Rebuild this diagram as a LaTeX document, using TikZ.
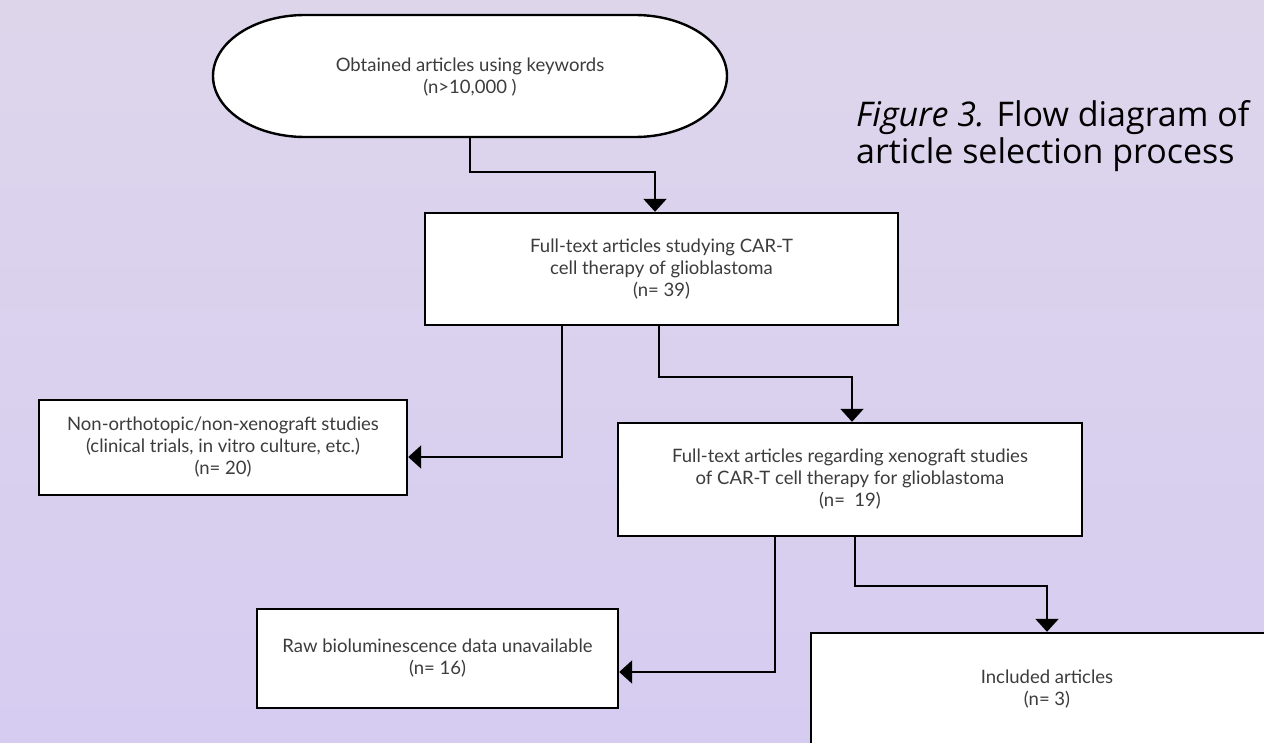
\documentclass[tikz,border=0pt]{standalone}
\usepackage{fontspec}
\setmainfont{Lato}
\newfontfamily\capfont{Open Sans}
\usetikzlibrary{arrows.meta}
\definecolor{bgtop}{RGB}{221,214,235}
\definecolor{bgbot}{RGB}{214,204,241}
\definecolor{txt}{RGB}{60,60,60}
\begin{document}
\begin{tikzpicture}[x=1pt,y=-1pt,
  box/.style={draw=black,line width=2.4pt,fill=white,inner sep=0pt,align=center,
    font=\fontsize{18.5}{22}\selectfont,text=txt},
  lbl/.style={inner sep=0pt,align=center,font=\fontsize{18.5}{22}\selectfont,text=txt},
  arr/.style={line width=2.2pt,-{Triangle[width=23pt,length=13pt]}},
  captext/.style={inner sep=0pt,anchor=base west,font=\capfont\fontsize{34}{37}\selectfont,text=black},
]
\useasboundingbox (0,0) rectangle (1264,743);
\clip (0,0) rectangle (1264,743);
\shade[top color=bgtop,bottom color=bgbot] (0,0) rectangle (1264,743);

% start oval
\draw[line width=2.4pt,fill=white] (305,15) -- (635,15)
  arc[start angle=90,end angle=-90,x radius=92pt,y radius=61pt] -- (305,137)
  arc[start angle=270,end angle=90,x radius=92pt,y radius=61pt] -- cycle;
\node[lbl,minimum width=514pt,minimum height=122pt] (n0) at (470,77)
  {Obtained articles using keywords\\(n>10,000 )};

% boxes
\node[box,minimum width=473pt,minimum height=112pt] (b1) at (661.5,269)
  {Full-text articles studying CAR-T\\cell therapy of glioblastoma\\(n= 39)};
\node[box,minimum width=368pt,minimum height=95pt] (b2) at (223,447.5)
  {Non-orthotopic/non-xenograft studies\\(clinical trials, in vitro culture, etc.)\\(n= 20)};
\node[box,minimum width=464pt,minimum height=113pt] (b3) at (850,479.5)
  {Full-text articles regarding xenograft studies\\of CAR-T cell therapy for glioblastoma\\(n=\ \ 19)};
\node[box,minimum width=361pt,minimum height=99pt] (b4) at (437.5,658.5)
  {Raw bioluminescence data unavailable\\(n= 16)};
\node[box,minimum width=480pt,minimum height=140pt] (b5) at (1051,703) {};
\node[lbl] (t5) at (1047,689) {Included articles\\(n= 3)};

% caption
\node[captext] (c1) at (856,127) {\textit{Figure 3.} Flow diagram of};
\node[captext] (c2) at (856,164) {article selection process};

% connector bend points
\coordinate (k1) at (655,172);
\coordinate (k2) at (562,457);
\coordinate (k3a) at (659,377);
\coordinate (k3b) at (852,377);
\coordinate (k4) at (775,672);
\coordinate (k5a) at (855,586);
\coordinate (k5b) at (1047,586);

\draw[arr] (n0.south) |- (k1) -- (k1 |- b1.north);
\draw[arr] (k2 |- b1.south) -- (k2) -- (b2.east |- k2);
\draw[arr] (k3a |- b1.south) -- (k3a) -- (k3b) -- (k3b |- b3.north);
\draw[arr] (k4 |- b3.south) -- (k4) -- (b4.east |- k4);
\draw[arr] (k5a |- b3.south) -- (k5a) -- (k5b) -- (k5b |- b5.north);
\end{tikzpicture}
\end{document}
